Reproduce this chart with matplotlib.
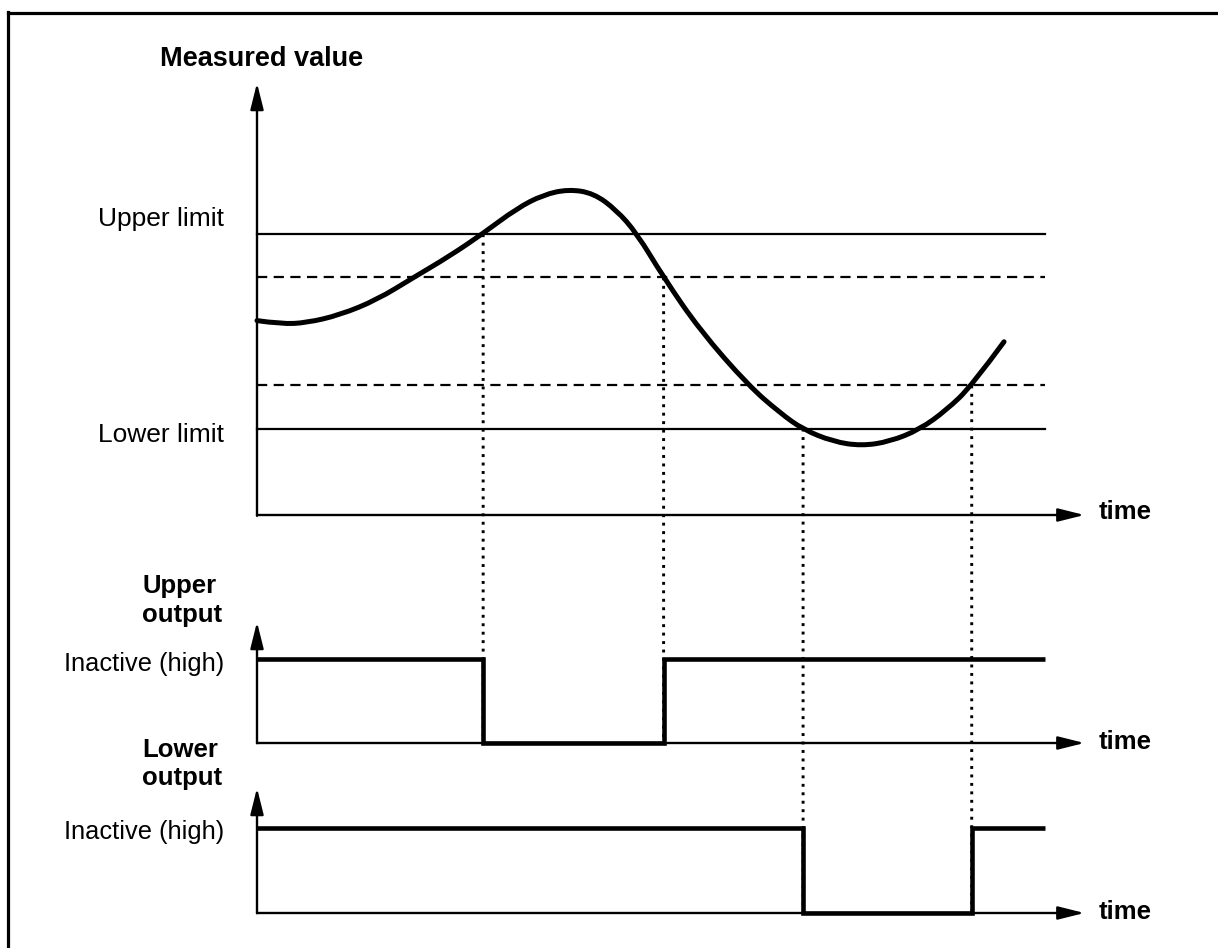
import matplotlib
matplotlib.use("Agg")
import matplotlib.pyplot as plt
from matplotlib.lines import Line2D
from matplotlib.patches import ConnectionPatch, PathPatch
from matplotlib.path import Path

plt.rcParams['font.family'] = ['Liberation Sans', 'DejaVu Sans']

t_curve = [0.0, 3.1, 6.3, 10.5, 15.2, 19.8, 24.5, 28.7, 33.0, 36.3, 39.5, 42.7,
           45.6, 48.2, 51.6, 56.2, 62.4, 66.4, 69.3, 73.1, 76.7, 80.3, 84.1,
           87.5, 90.7, 94.8]
v_curve = [45.0, 44.2, 44.5, 46.3, 49.8, 54.9, 60.0, 65.2, 71.0, 74.1, 75.4, 74.5,
           70.6, 65.2, 55.0, 42.8, 29.9, 23.6, 19.8, 17.0, 16.0, 17.0, 19.8,
           24.3, 29.9, 40.1]

# limits and hysteresis (reset) levels
upper_limit = 65
upper_reset = 55
lower_reset = 30
lower_limit = 20
t_end = 100
t_arrow = 105

# switching instants of the outputs
upper_switch = [28.7, 51.6]
lower_switch = [69.3, 90.7]
high, low = 1, 0

W, H = 1218, 948
fig = plt.figure(figsize=(W / 100, H / 100), dpi=100)

X0 = 257          # pixel x of time = 0
PX_PER_T = 7.88   # pixels per time unit


def panel(y_bottom, y_top, ytop_val):
    ax = fig.add_axes([X0 / W, 1 - y_bottom / H, t_arrow * PX_PER_T / W,
                       (y_bottom - y_top) / H])
    ax.set_xlim(0, t_arrow)
    ax.set_ylim(0, ytop_val)
    ax.axis('off')
    arrow = dict(arrowstyle='-|>,head_length=0.8,head_width=0.2', lw=1.7,
                 color='k', shrinkA=0, shrinkB=0, mutation_scale=20)
    ax.annotate('', xy=(0, ytop_val), xytext=(0, -0.002 * ytop_val),
                arrowprops=arrow, annotation_clip=False)
    ax.annotate('', xy=(t_arrow, 0), xytext=(0, 0),
                arrowprops=arrow, annotation_clip=False)
    return ax


def px(x, y):
    return x / W, 1 - y / H


def smooth_path(xs, ys):
    # quadratic bezier pieces through the midpoints, the read points as controls
    pts = list(zip(xs, ys))
    verts = [pts[0]]
    codes = [Path.MOVETO]
    for i in range(1, len(pts) - 1):
        mid = ((pts[i][0] + pts[i + 1][0]) / 2, (pts[i][1] + pts[i + 1][1]) / 2)
        if i == len(pts) - 2:
            mid = pts[-1]
        verts += [pts[i], mid]
        codes += [Path.CURVE3, Path.CURVE3]
    return Path(verts, codes)


main = panel(515, 83, 100)
up = panel(743, 622, 1.44)
lo = panel(913, 788, 1.47)

# limit lines
main.plot([0, t_end], [upper_limit, upper_limit], color='k', lw=1.6, clip_on=False)
main.plot([0, t_end], [lower_limit, lower_limit], color='k', lw=1.6, clip_on=False)
for lvl in (upper_reset, lower_reset):
    main.plot([0, t_end], [lvl, lvl], color='k', lw=1.6, dashes=(4.6, 2.9),
              dash_capstyle='butt', clip_on=False)

# measured value
main.add_patch(PathPatch(smooth_path(t_curve, v_curve), facecolor='none',
                         edgecolor='k', lw=3.6, capstyle='round', joinstyle='round',
                         clip_on=False, zorder=5))

# outputs
up_t = [0] + upper_switch + [t_end]
up_v = [high, low, high, high]
lo_t = [0] + lower_switch + [t_end]
lo_v = [high, low, high, high]
up.step(up_t, up_v, where='post', color='k', lw=3.3, solid_joinstyle='miter',
        solid_capstyle='butt', clip_on=False, zorder=5)
lo.step(lo_t, lo_v, where='post', color='k', lw=3.3, solid_joinstyle='miter',
        solid_capstyle='butt', clip_on=False, zorder=5)

# dotted guide lines
guides = [(upper_switch[0], upper_limit, up), (upper_switch[1], upper_reset, up),
          (lower_switch[0], lower_limit, lo), (lower_switch[1], lower_reset, lo)]
for t, lvl, ax in guides:
    con = ConnectionPatch(xyA=(t, lvl), coordsA=main.transData,
                          xyB=(t, 0), coordsB=ax.transData,
                          linestyle=(0, (1, 1.9)), lw=2.1, color='k',
                          capstyle='butt')
    fig.add_artist(con)

# labels
fig.text(*px(160, 66), 'Measured value', fontsize=19.5, fontweight='bold',
         ha='left', va='baseline')
fig.text(*px(224, 226), 'Upper limit', fontsize=19, ha='right', va='baseline')
fig.text(*px(224, 442), 'Lower limit', fontsize=19, ha='right', va='baseline')
fig.text(*px(224, 671), 'Inactive (high)', fontsize=18.3, ha='right', va='baseline')
fig.text(*px(224, 839), 'Inactive (high)', fontsize=18.3, ha='right', va='baseline')
fig.text(*px(142, 593), 'Upper', fontsize=18.5, fontweight='bold', ha='left', va='baseline')
fig.text(*px(142, 622), 'output', fontsize=18.5, fontweight='bold', ha='left', va='baseline')
fig.text(*px(142, 757), 'Lower', fontsize=18.5, fontweight='bold', ha='left', va='baseline')
fig.text(*px(142, 785), 'output', fontsize=18.5, fontweight='bold', ha='left', va='baseline')
for ax, dy in ((main, 4), (up, 6), (lo, 6)):
    ax.annotate('time', xy=(t_arrow, 0), xytext=(14, -dy), textcoords='offset pixels',
                fontsize=18.5, fontweight='bold', ha='left', va='baseline',
                annotation_clip=False)

# frame (top and left edges only)
fig.add_artist(Line2D([px(8, 0)[0], 1], [px(0, 13)[1]] * 2, color='k', lw=2.3))
fig.add_artist(Line2D([px(8, 0)[0]] * 2, [0, px(0, 12)[1]], color='k', lw=2.3))

fig.savefig('out.png', dpi=100, facecolor='white')
